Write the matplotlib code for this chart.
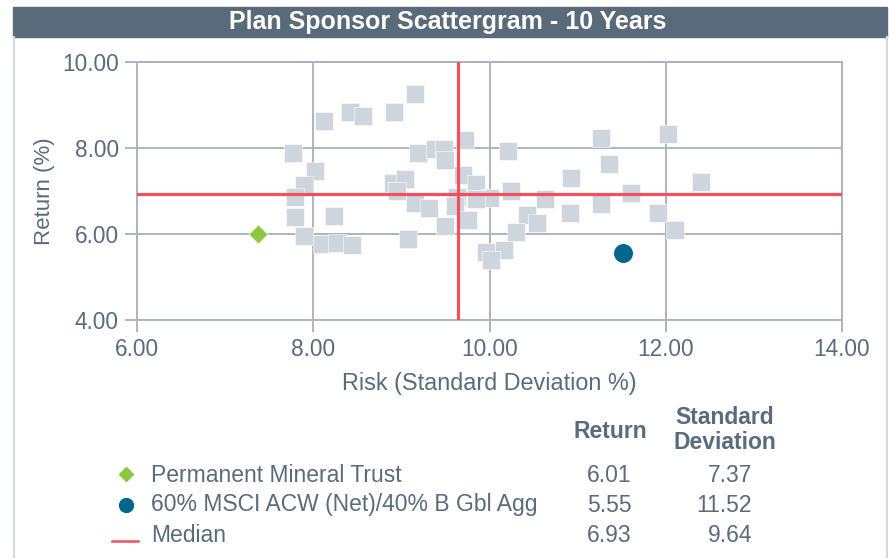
import matplotlib
matplotlib.use("Agg")
import matplotlib.pyplot as plt
from matplotlib.patches import Rectangle
from matplotlib.lines import Line2D

plt.rcParams['font.family'] = ['Liberation Sans', 'DejaVu Sans']

# ---- data ----
title = "Plan Sponsor Scattergram - 10 Years"
universe_risk = [7.77, 8.02, 7.90, 7.79, 7.79, 7.90, 8.10, 8.27, 8.44, 8.24,
                 8.12, 8.42, 8.57, 8.92, 9.16, 9.19, 9.38, 9.48, 9.49, 9.72,
                 10.21, 9.70, 9.85, 8.90, 9.04, 8.95, 10.24, 10.01, 9.63, 9.61,
                 9.15, 9.31, 9.76, 9.50, 10.63, 10.42, 10.54, 10.30, 9.07, 10.17,
                 9.96, 10.02, 10.93, 11.26, 11.36, 11.60, 12.03, 12.40, 10.91, 11.27,
                 11.91, 12.10, 9.85]
universe_return = [7.89, 7.46, 7.14, 6.87, 6.40, 5.96, 5.76, 5.78, 5.75, 6.43,
                   8.62, 8.83, 8.74, 8.83, 9.25, 7.89, 7.97, 7.97, 7.72, 8.19,
                   7.93, 7.37, 7.16, 7.18, 7.29, 7.00, 7.01, 6.83, 6.87, 6.65,
                   6.71, 6.60, 6.32, 6.18, 6.82, 6.44, 6.26, 6.05, 5.88, 5.62,
                   5.59, 5.39, 7.30, 8.23, 7.63, 6.95, 8.32, 7.20, 6.48, 6.70,
                   6.48, 6.09, 6.81]
series_names = ["Permanent Mineral Trust", "60% MSCI ACW (Net)/40% B Gbl Agg", "Median"]
series_return = [6.01, 5.55, 6.93]
series_risk = [7.37, 11.52, 9.64]
x_ticks = [6.0, 8.0, 10.0, 12.0, 14.0]
y_ticks = [4.0, 6.0, 8.0, 10.0]

# ---- style ----
W, H = 889, 558
TXT = '#5a6b7b'
GRID = '#aab5c1'
SQ = '#cfd5dd'
RED = '#f0505f'
GREEN = '#8dc63f'
BLUE = '#00678c'
BAR = '#596b7b'

fig = plt.figure(figsize=(W / 100, H / 100), dpi=100)

def fx(x):
    return x / W

def fy(y):
    return 1 - y / H

# title bar and side borders
fig.patches.append(Rectangle((fx(13), fy(37)), fx(887) - fx(13), fy(7) - fy(37),
                             transform=fig.transFigure, color=BAR, zorder=0))
fig.text(fx(448), fy(22.5), title, color='white', fontsize=18, fontweight='bold',
         ha='center', va='center')
for xb in (14, 887):
    fig.add_artist(Line2D([fx(xb), fx(xb)], [fy(37), fy(558)], color='#d3d8de', lw=1.5,
                          transform=fig.transFigure))

# axes
left, right, top, bottom = 137, 842, 62, 320
ax = fig.add_axes([fx(left), fy(bottom), fx(right) - fx(left), fy(top) - fy(bottom)])
ax.set_xlim(x_ticks[0], x_ticks[-1])
ax.set_ylim(y_ticks[0], y_ticks[-1])
ax.set_xticks(x_ticks)
ax.set_yticks(y_ticks)
ax.set_xticklabels([f"{v:.2f}" for v in x_ticks])
ax.set_yticklabels([f"{v:.2f}" for v in y_ticks])
ax.grid(True, color=GRID, lw=1.4, zorder=0)
for s in ax.spines.values():
    s.set_color(GRID)
    s.set_linewidth(1.4)
ax.tick_params(axis='both', colors=GRID, labelcolor=TXT, labelsize=16.3, length=8.5, width=1.4)
ax.tick_params(axis='x', pad=4.5)
ax.tick_params(axis='y', pad=4.5)
ax.set_axisbelow(True)

ax.scatter(universe_risk, universe_return, marker='s', s=185, color=SQ,
           edgecolors='white', linewidths=0.4, zorder=2)
ax.axvline(series_risk[2], color=RED, lw=2.3, zorder=3)
ax.axhline(series_return[2], color=RED, lw=2.3, zorder=3)
ax.scatter([series_risk[0]], [series_return[0]], marker='D', s=95, color=GREEN,
           edgecolors='white', linewidths=0.5, zorder=4, clip_on=False)
ax.scatter([series_risk[1]], [series_return[1]], marker='o', s=200, color=BLUE,
           edgecolors='white', linewidths=0.5, zorder=4, clip_on=False)

ax.set_xlabel("Risk (Standard Deviation %)", color=TXT, fontsize=16.8, labelpad=8)
ax.set_ylabel("Return (%)", color=TXT, fontsize=16, labelpad=5.5)

# legend table
FS = 16.5
fig.text(fx(610), fy(431), "Return", color=TXT, fontsize=FS, fontweight='bold',
         ha='center', va='center')
fig.text(fx(725), fy(430), "Standard\nDeviation", color=TXT, fontsize=FS,
         fontweight='bold', ha='center', va='center', linespacing=1.1)
row_y = [475, 505, 536]
for i, name in enumerate(series_names):
    y = row_y[i]
    fig.text(fx(151), fy(y), name, color=TXT, fontsize=FS, ha='left', va='center')
    fig.text(fx(632), fy(y), f"{series_return[i]:.2f}", color=TXT, fontsize=FS,
             ha='right', va='center')
    fig.text(fx(752), fy(y), f"{series_risk[i]:.2f}", color=TXT, fontsize=FS,
             ha='right', va='center')
fig.add_artist(Line2D([fx(126)], [fy(474)], marker='D', ms=7, color=GREEN, lw=0,
                      transform=fig.transFigure))
fig.add_artist(Line2D([fx(126)], [fy(505)], marker='o', ms=10, color=BLUE, lw=0,
                      transform=fig.transFigure))
fig.add_artist(Line2D([fx(112), fx(138)], [fy(541), fy(541)], color=RED, lw=1.8,
                      transform=fig.transFigure))

fig.savefig("out.png", dpi=100)
